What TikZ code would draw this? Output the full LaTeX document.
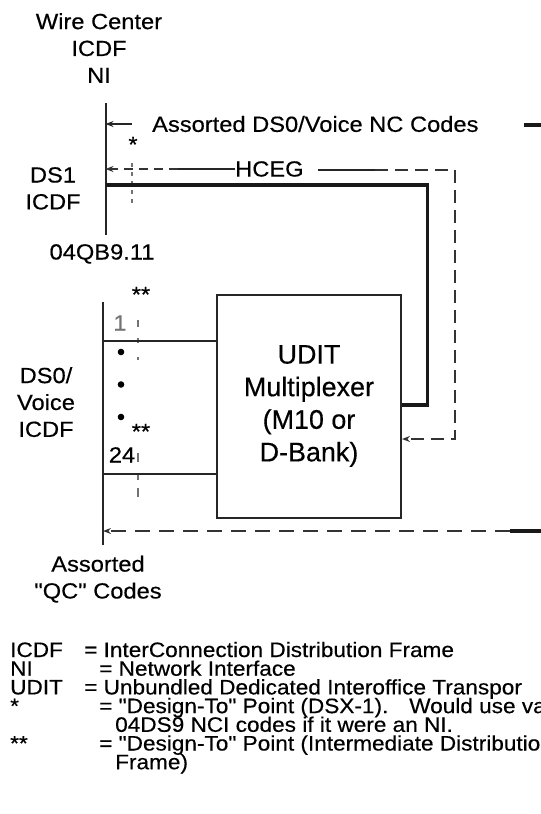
\documentclass[tikz,border=0pt]{standalone}
\usepackage{fontspec}
\setmainfont{Liberation Sans}[FakeStretch=1.08, FakeBold=0.4, Ligatures=TeXOff]
\newfontfamily\muxfont{Liberation Sans}[FakeBold=0.4, Ligatures=TeXOff]
\usepackage{tikz}
\usetikzlibrary{arrows.meta,positioning}

\begin{document}
\begin{tikzpicture}[
    x=1bp, y=-1bp,
    lbl/.style={font=\fontsize{22}{27}\selectfont, inner sep=0pt, align=center},
    leg/.style={font=\fontsize{21}{18.7}\selectfont, inner sep=0pt, anchor=base west},
    muxbox/.style={draw=black!85, line width=2bp, minimum width=184bp, minimum height=223bp,
        font=\muxfont\fontsize{27}{32.7}\selectfont, align=center, inner sep=0pt},
    thinline/.style={draw=black!85, line width=2bp},
    thickline/.style={draw=black!90, line width=3.8bp},
    dashline/.style={draw=black!80, line width=2bp, dash pattern=on 13bp off 7bp},
    tickline/.style={draw=black!55, line width=1.6bp},
    dot/.style={circle, fill=black, inner sep=0pt, minimum size=6.6bp},
    myarrow/.style={-{Stealth[length=8bp,width=6bp]}}
]
\useasboundingbox (0,0) rectangle (541,814);

% wire center frame
\node[lbl, anchor=north] (wc) at (99,13) {Wire Center\\ICDF\\NI};

% DS1 ICDF
\coordinate (v1top) at (105.5,103);
\coordinate (v1bot) at (105.5,235);
\draw[thinline] (v1top) -- (v1bot);
\node[lbl, anchor=north] (ds1) at (53,167) {DS1\\ICDF};
\node[lbl, anchor=north] (qb) at (102,244) {04QB9.11};
\node[lbl, anchor=west] (nc) at (152,124) {Assorted DS0/Voice NC Codes};
\node[lbl, anchor=base] (star) at (133,152) {*};
\node[lbl, anchor=west] (hceg) at (235,169) {HCEG};

% DS0/Voice ICDF
\coordinate (v2top) at (103,302);
\coordinate (v2bot) at (103,545);
\draw[thinline] (v2top) -- (v2bot);
\node[lbl, anchor=north] (ds0) at (46,367) {DS0/\\Voice\\ICDF};
\node[lbl, anchor=base] (dstar1) at (141,302) {**};
\node[lbl, anchor=base] (dstar2) at (141,439) {**};
\node[lbl, anchor=base, text=black!55] (ch1) at (120,330.5) {1};
\node[lbl, anchor=base] (ch24) at (122,462.5) {24};
\node[dot] (d1) at (121,352) {};
\node[dot] (d2) at (121,384.5) {};
\node[dot] (d3) at (121,417) {};
\node[lbl, anchor=north] (qc) at (98,555.5) {Assorted\\"QC" Codes};

% multiplexer
\node[muxbox] (mux) at (309,406) {UDIT\\Multiplexer\\(M10 or\\D-Bank)};

% design-to points
\draw[tickline, dash pattern=on 4bp off 5bp] (132,163) -- (132,208);
\foreach \ya/\yb in {320/327, 338/343, 357/360, 453/462, 475/480, 488/497}
    \draw[tickline] (138,\ya) -- (138,\yb);

% connectors
\coordinate (nc0) at (132,124);
\draw[thinline, myarrow] (nc0) -- (nc0 -| v1top);
\draw[thickline] (524,125) -- (541,125);
\coordinate (hg1) at (178,169);
\draw[thinline] (hceg.west) -- (hg1);
\draw[dashline, myarrow, dash pattern=on 9bp off 6bp] (hg1) -- (hg1 -| v1top);
\coordinate (hg2) at (318,170);
\coordinate (hg3) at (375,170);
\coordinate (cr1) at (455,170);
\coordinate (cr2) at (455,439);
\draw[thinline] (hg2) -- (hg3);
\draw[dashline, myarrow] (hg3) -- (cr1) -- (cr2) -- (cr2 -| mux.east);
\coordinate (tk1) at (427.5,185);
\coordinate (tk2) at (427.5,405);
\draw[thickline] (tk1 -| v1top) -- (tk1) -- (tk2) -- (tk2 -| mux.east);
\coordinate (ln1) at (103,341);
\coordinate (ln24) at (103,474);
\draw[thinline] (ln1) -- (ln1 -| mux.west);
\draw[thinline] (ln24) -- (ln24 -| mux.west);
\coordinate (qcend) at (541,531);
\draw[dashline, myarrow, dash pattern=on 15bp off 9bp] (510,531) -- (qcend -| v2top);
\draw[thickline] (510,531) -- (qcend);

% legend
\node[leg] (l1) at (10,657) {ICDF};
\node[leg] (l1b) at (84,657) {= InterConnection Distribution Frame};
\node[leg] (l2) at (10,675.7) {NI};
\node[leg] (l2b) at (99,675.7) {= Network Interface};
\node[leg] (l3) at (10,694.4) {UDIT};
\node[leg] (l3b) at (84,694.4) {= Unbundled Dedicated Interoffice Transpor};
\node[leg] (l4) at (10,713.1) {*};
\node[leg] (l4b) at (99,713.1) {= "Design-To" Point (DSX-1).\quad Would use va};
\node[leg] (l5) at (115,731.8) {04DS9 NCI codes if it were an NI.};
\node[leg] (l6) at (10,750.5) {**};
\node[leg] (l6b) at (99,750.5) {= "Design-To" Point (Intermediate Distributio};
\node[leg] (l7) at (115,769.2) {Frame)};
\end{tikzpicture}
\end{document}
